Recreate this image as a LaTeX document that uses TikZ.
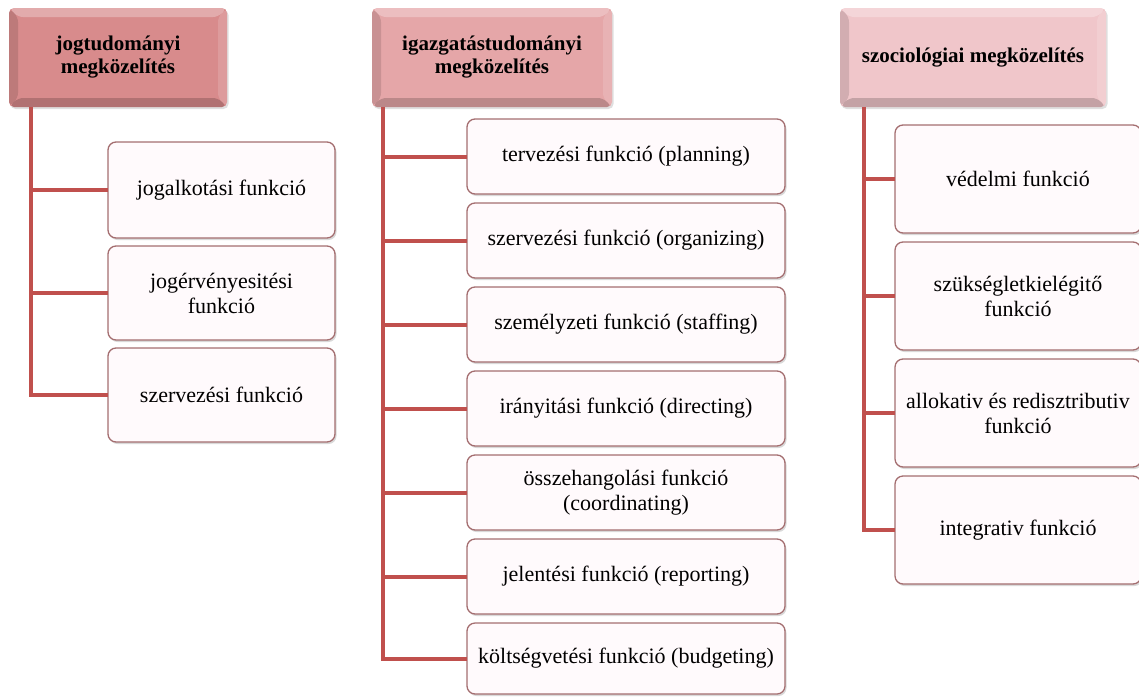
\documentclass[tikz,border=0pt]{standalone}
\usepackage{fontspec}
\setmainfont{Liberation Serif}
\usetikzlibrary{positioning, shadows}

\definecolor{linkred}{HTML}{C0504D}
\definecolor{boxline}{HTML}{A46E70}
\definecolor{boxfill}{HTML}{FFFAFC}
\definecolor{headA}{HTML}{D88B8C}
\definecolor{headB}{HTML}{E5A6A8}
\definecolor{headC}{HTML}{F0C6CA}

\begin{document}
\begin{tikzpicture}[x=1pt, y=-1pt, node distance=9pt,
   bevel/.style={path picture={
      \path (path picture bounding box.north west) coordinate (bnw)
            (path picture bounding box.north east) coordinate (bne)
            (path picture bounding box.south west) coordinate (bsw)
            (path picture bounding box.south east) coordinate (bse);
      \fill[white, opacity=.28] (bnw) -- (bne) -- ([shift={(-9pt,-9pt)}]bne) -- ([shift={(9pt,-9pt)}]bnw) -- cycle;
      \fill[black, opacity=.12] (bnw) -- (bsw) -- ([shift={(9pt,9pt)}]bsw) -- ([shift={(9pt,-9pt)}]bnw) -- cycle;
      \fill[black, opacity=.18] (bsw) -- (bse) -- ([shift={(-9pt,9pt)}]bse) -- ([shift={(9pt,9pt)}]bsw) -- cycle;
      \fill[white, opacity=.14] (bne) -- (bse) -- ([shift={(-9pt,9pt)}]bse) -- ([shift={(-9pt,-9pt)}]bne) -- cycle;
   }},
   head/.style={rectangle, rounded corners=5pt, minimum height=99pt, align=center,
      inner sep=2pt, font=\bfseries\fontsize{21}{23}\selectfont, bevel,
      drop shadow={shadow xshift=1.5pt, shadow yshift=-2pt, opacity=.25}},
   func/.style={rectangle, draw=boxline, line width=1.3pt, rounded corners=8pt,
      fill=boxfill, align=center, inner sep=2pt, outer sep=0pt,
      font=\fontsize{22}{25}\selectfont,
      drop shadow={shadow xshift=1.5pt, shadow yshift=-2pt, opacity=.3}},
   link/.style={draw=linkred, line width=4pt}]
   \useasboundingbox (0,0) rectangle (1139,696);

   % headers
   \node[head, fill=headA, minimum width=218pt] (h1) at (118,57.5) {jogtudományi\\megközelítés};
   \node[head, fill=headB, minimum width=240pt] (h2) at (492,57.5) {igazgatástudományi\\megközelítés};
   \node[head, fill=headC, minimum width=266pt] (h3) at (973,57.5) {szociológiai megközelítés};

   % jogtudományi
   \node[func, minimum width=227pt, minimum height=96pt, anchor=north] (j1) at (221.5,142) {jogalkotási funkció};
   \node[func, minimum width=227pt, minimum height=94pt, below=8pt of j1] (j2) {jogérvényesitési\\funkció};
   \node[func, minimum width=227pt, minimum height=94pt, below=8pt of j2] (j3) {szervezési funkció};

   % igazgatástudományi
   \node[func, minimum width=318pt, minimum height=75pt, anchor=north] (i1) at (626,119) {tervezési funkció (planning)};
   \node[func, minimum width=318pt, minimum height=75pt, below=of i1] (i2) {szervezési funkció (organizing)};
   \node[func, minimum width=318pt, minimum height=75pt, below=of i2] (i3) {személyzeti funkció (staffing)};
   \node[func, minimum width=318pt, minimum height=75pt, below=of i3] (i4) {irányitási funkció (directing)};
   \node[func, minimum width=318pt, minimum height=75pt, below=of i4] (i5) {összehangolási funkció\\(coordinating)};
   \node[func, minimum width=318pt, minimum height=75pt, below=of i5] (i6) {jelentési funkció (reporting)};
   \node[func, minimum width=318pt, minimum height=71pt, below=of i6] (i7) {költségvetési funkció (budgeting)};

   % szociológiai
   \node[func, minimum width=246pt, minimum height=108pt, anchor=north] (s1) at (1018,125) {védelmi funkció};
   \node[func, minimum width=246pt, minimum height=108pt, below=of s1] (s2) {szükségletkielégitő\\funkció};
   \node[func, minimum width=246pt, minimum height=108pt, below=of s2] (s3) {allokativ és redisztributiv\\funkció};
   \node[func, minimum width=246pt, minimum height=108pt, below=of s3] (s4) {integrativ funkció};

   % connectors
   \coordinate (jt) at (31,107);
   \coordinate (it) at (383,107);
   \coordinate (st) at (864,107);

   \draw[link] (jt) |- (j3);
   \draw[link] (jt |- j1) -- (j1);
   \draw[link] (jt |- j2) -- (j2);

   \draw[link] (it) |- (i7);
   \draw[link] (it |- i1) -- (i1);
   \draw[link] (it |- i2) -- (i2);
   \draw[link] (it |- i3) -- (i3);
   \draw[link] (it |- i4) -- (i4);
   \draw[link] (it |- i5) -- (i5);
   \draw[link] (it |- i6) -- (i6);

   \draw[link] (st) |- (s4);
   \draw[link] (st |- s1) -- (s1);
   \draw[link] (st |- s2) -- (s2);
   \draw[link] (st |- s3) -- (s3);
\end{tikzpicture}
\end{document}
